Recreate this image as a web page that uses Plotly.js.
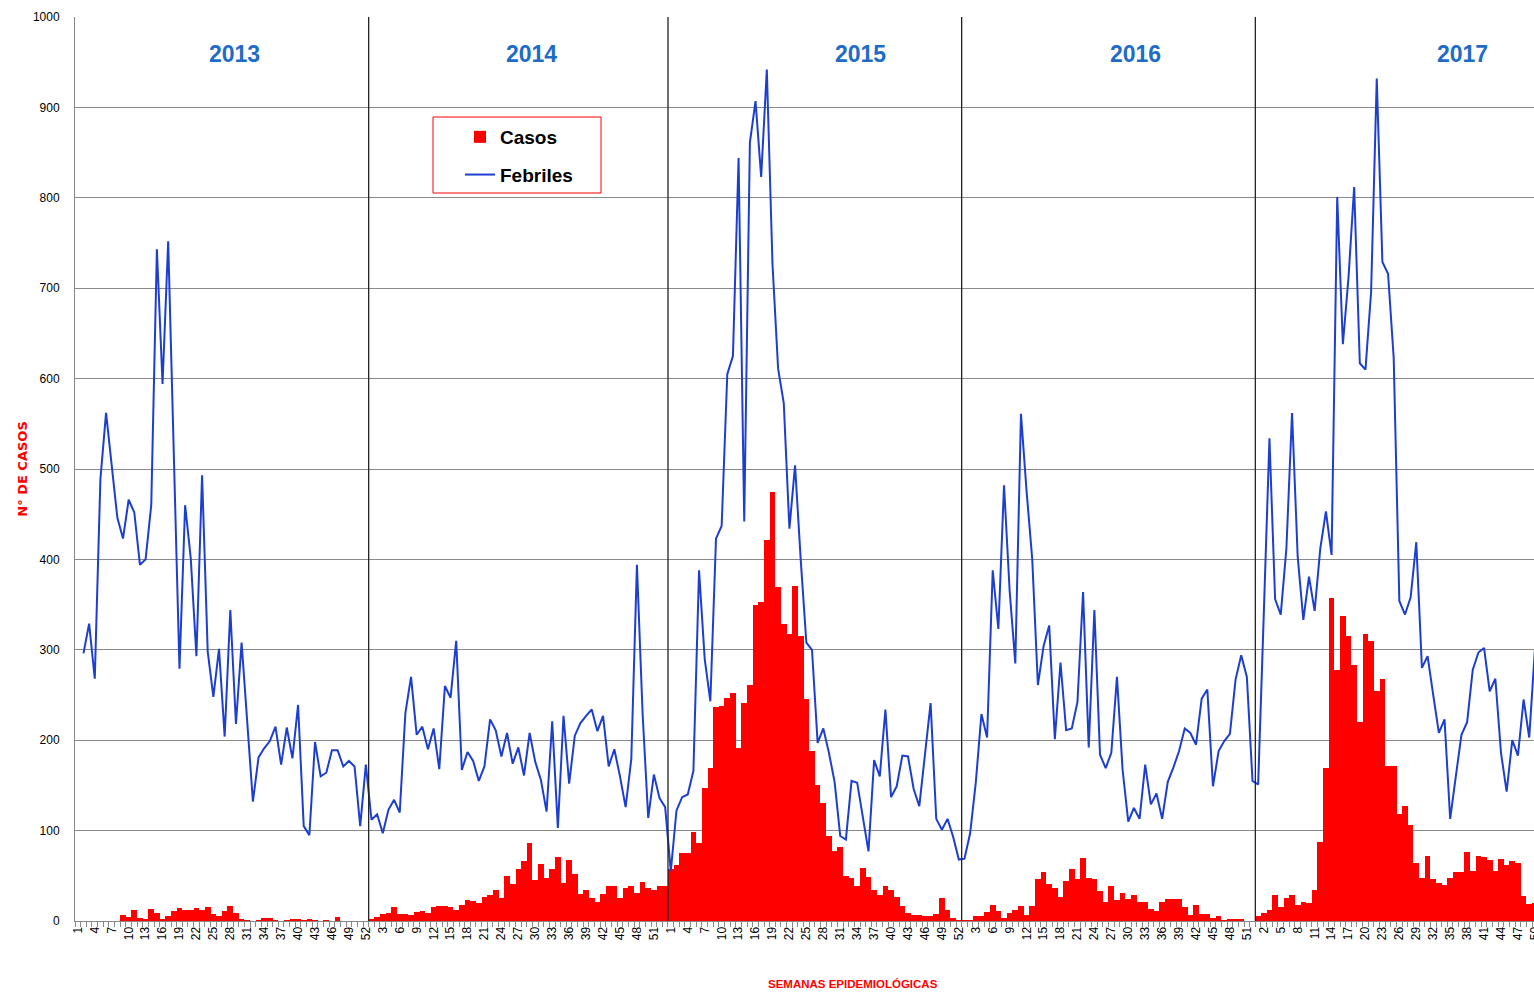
<!DOCTYPE html>
<html><head><meta charset="utf-8">
<script src="https://cdn.plot.ly/plotly-3.0.1.min.js"></script>
<style>html,body{margin:0;padding:0;overflow:hidden;background:#fff;width:1534px;height:993px}#chart{width:1560px;height:993px}</style>
</head><body><div id="chart"></div>
<script>
const years = ['2013','2014','2015','2016','2017'];
const weeksInYear = [52,53,52,52,52];

const casos2013 = [0,0,0,0,0,0,0,0,7,4,12,3,2,13,9,2,6,11,14,12,12,14,12,16,8,5,11,17,9,2,1,0,1,3,3,1,0,1,2,2,1,2,1,0,1,0,4,0,0,0,0,0];
const febriles2013 = [null,296,329,268,489,562,504,446,423,466,452,394,400,460,743,594,752,500,279,460,401,293,493,298,248,301,204,344,218,308,215,132,181,191,199,215,173,214,180,239,105,95,198,160,164,189,189,171,177,171,105,173];

const casos2014 = [2,4,8,9,15,8,8,7,10,11,9,15,17,17,15,12,18,23,22,20,27,29,34,25,50,41,57,66,86,45,63,48,57,71,42,68,52,30,34,25,21,30,39,39,26,37,39,31,43,37,34,39,39];
const febriles2014 = [112,118,97,123,134,120,230,270,206,215,190,213,168,260,247,310,167,187,177,155,171,223,211,182,208,174,192,161,208,176,156,121,221,103,227,152,205,219,227,234,210,227,171,190,160,126,179,394,230,114,162,136,126];

const casos2015 = [58,62,75,75,99,86,147,169,237,238,247,252,191,241,261,350,353,421,475,370,328,318,371,315,246,188,151,131,94,77,82,50,48,39,59,49,34,29,39,34,27,17,9,7,7,6,6,8,26,12,3,1];
const febriles2015 = [55,122,137,140,166,388,290,243,423,437,605,625,844,442,861,907,823,942,727,611,573,434,504,400,308,300,197,213,186,154,94,90,155,153,117,77,178,160,234,137,149,183,182,146,127,182,241,113,101,113,93,68];

const casos2016 = [1,1,5,5,10,18,11,3,9,12,17,7,17,47,54,41,37,27,44,57,46,70,48,46,33,21,39,23,31,24,29,21,21,13,11,21,24,24,24,15,7,18,8,8,3,6,1,2,2,2,0,0];
const febriles2016 = [69,97,153,229,203,388,323,482,365,285,561,475,400,261,304,327,201,286,211,213,242,364,192,344,184,169,186,270,167,110,125,113,173,129,141,113,154,170,188,213,208,195,246,256,149,188,199,207,267,294,270,155];

const casos2017 = [5,9,12,29,16,26,29,18,21,20,34,87,169,357,278,337,315,283,220,318,310,254,268,172,171,118,127,106,64,48,72,46,42,40,48,54,54,76,55,72,71,68,55,69,62,66,64,28,19,20];
const febriles2017 = [151,340,534,356,339,412,562,403,333,381,343,412,453,405,801,638,712,812,617,610,696,932,729,716,623,354,339,358,419,280,293,250,208,223,113,160,206,220,278,297,302,254,268,186,143,200,183,245,203,300];

const casosByYear = [casos2013, casos2014, casos2015, casos2016, casos2017];
const febrilesByYear = [febriles2013, febriles2014, febriles2015, febriles2016, febriles2017];

const weekLabel = [];
const casos = [], febriles = [];
const yearStart = [];
weeksInYear.forEach((n, y) => {
  yearStart.push(weekLabel.length);
  for (let w = 1; w <= n; w++) {
    weekLabel.push(w);
    const k = w - 1;
    casos.push(k < casosByYear[y].length ? casosByYear[y][k] : null);
    febriles.push(k < febrilesByYear[y].length ? febrilesByYear[y][k] : null);
  }
});
const idx = weekLabel.map((_, i) => i);
const nShown = 52 + 53 + 52 + 52 + casos2017.length;
const tickvals = [], ticktext = [];
for (let i = 0; i < nShown; i += 3) { tickvals.push(i); ticktext.push(String(weekLabel[i])); }

const sans = 'Liberation Sans, Arial, sans-serif';
const dv = 'DejaVu Sans, Liberation Sans, Arial, sans-serif';

const traces = [
  {type:'bar', name:'Casos', legendgroup:'a', x: idx, y: casos, marker:{color:'#FF0000', line:{width:0}}},
  {type:'scatter', mode:'lines', name:'Febriles', legendgroup:'b', x: idx, y: febriles,
   line:{color:'#1D3FD1', width:2}, connectgaps:false}
];

const shapes = yearStart.slice(1).map(s => ({
  type:'line', xref:'x', yref:'paper', x0: s - 0.5, x1: s - 0.5, y0: 0, y1: 1,
  line:{color:'#222', width:1.3}
}));
shapes.push({type:'rect', xref:'paper', yref:'paper', x0:(433-75)/1474, x1:(601-75)/1474,
  y0:(921-193)/904, y1:(921-117)/904, line:{color:'#FF0000', width:1}, fillcolor:'#fff', layer:'above'});

const yearX = [27.8, 80.3, 138.5, 187.2, 245.2];
const annotations = years.map((t, k) => ({
  text: t, xref:'x', yref:'y', x: yearX[k], y: 959, showarrow:false,
  font:{family: sans, size: 23, color:'#1E6CC8', weight: 700}
}));
annotations.push({
  text:'SEMANAS EPIDEMIOLÓGICAS', xref:'paper', yref:'paper', x:0.528, y:-0.079,
  showarrow:false, font:{family: sans, size: 11.5, color:'#FF0000', weight:700}
});

const layout = {
  width: 1560, height: 993,
  margin:{l:75, r:11, t:17, b:72},
  paper_bgcolor:'#fff', plot_bgcolor:'#fff',
  bargap: 0,
  showlegend: true,
  legend:{x:(460-75)/1474, y:(921-118)/904, xanchor:'left', yanchor:'top', bgcolor:'rgba(0,0,0,0)',
    borderwidth:0, traceorder:'grouped', tracegroupgap:10,
    font:{family: sans, size: 19, color:'#000', weight:700}, itemwidth:30},
  xaxis:{type:'linear', range:[-0.5, 260.5], tickmode:'array', tickvals: tickvals, ticktext: ticktext,
    tickangle:-90, tickfont:{family:'Arial, Liberation Sans, sans-serif', size:12, color:'#000'},
    showgrid:false, zeroline:false, showline:true, linecolor:'#888', linewidth:1, ticks:'',
    minor:{tickmode:'linear', tick0:-0.5, dtick:1, ticks:'outside', ticklen:5, tickcolor:'#888', showgrid:false}},
  yaxis:{range:[0,1000], tickmode:'linear', tick0:0, dtick:100, showgrid:true, gridcolor:'#8a8a8a', gridwidth:1,
    zeroline:false, showline:true, linecolor:'#888', linewidth:1, ticks:'', ticklabelstandoff:12,
    tickfont:{family:'Arial, Liberation Sans, sans-serif', size:12, color:'#000'},
    title:{text:'N° DE CASOS', font:{family: dv, size:13, color:'#FF0000', weight:700}, standoff:2}},
  shapes: shapes,
  annotations: annotations
};

Plotly.newPlot('chart', traces, layout, {staticPlot:true, displayModeBar:false});
</script>
</body></html>
